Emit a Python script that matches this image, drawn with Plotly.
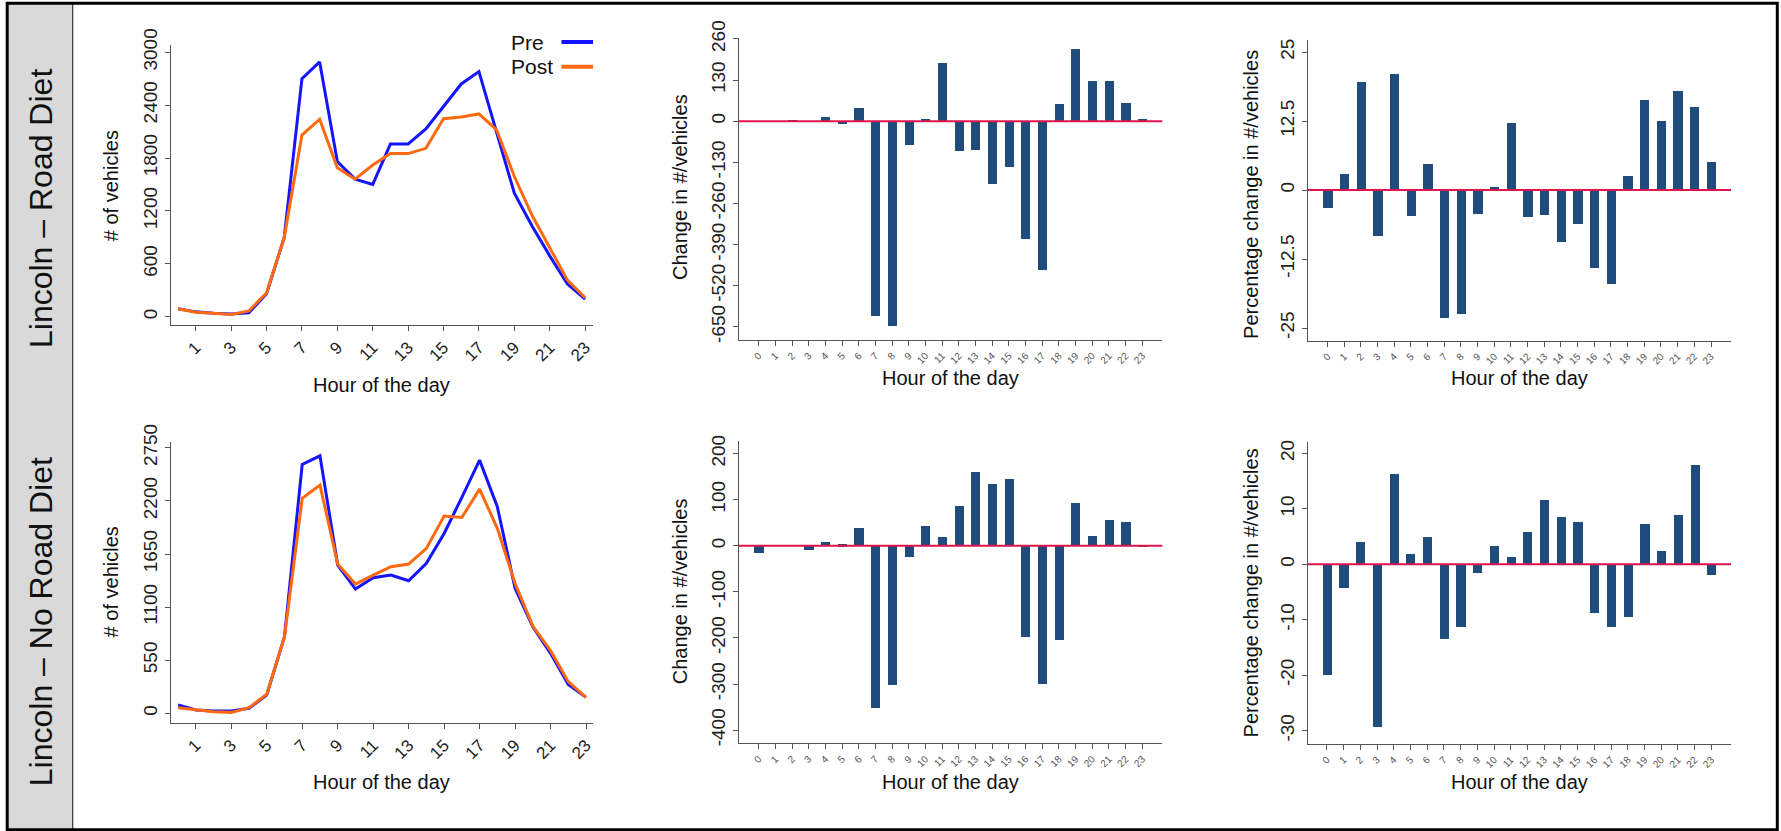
import plotly.graph_objects as go

# ---------------- data ----------------
hours = list(range(24))

rd_pre = [90, 55, 40, 30, 45, 260, 900, 2700, 2890, 1760, 1560, 1500,
          1960, 1960, 2130, 2390, 2640, 2780, 2100, 1400, 1030, 690, 370, 200]
rd_post = [90, 50, 40, 25, 65, 270, 900, 2060, 2240, 1690, 1560, 1720,
           1850, 1850, 1910, 2245, 2265, 2300, 2120, 1590, 1150, 790, 415, 215]

nrd_pre = [86, 35, 24, 24, 52, 190, 794, 2577, 2667, 1535, 1287, 1404,
           1432, 1373, 1553, 1863, 2236, 2622, 2139, 1294, 897, 621, 300, 166]
nrd_post = [59, 35, 17, 10, 59, 197, 794, 2226, 2364, 1546, 1339, 1432,
            1518, 1546, 1708, 2043, 2029, 2322, 1915, 1346, 904, 649, 328, 166]

rd_change = [0, 0, 4, 0, 12, -10, 42, -615, -649, -76, 7, 183,
             -94, -92, -200, -145, -374, -472, 54, 227, 127, 127, 56, 8]
rd_pct = [-3.2, 2.9, 19.5, -8.4, 21.1, -4.7, 4.7, -23.1, -22.4, -4.3, 0.5, 12.2,
          -4.8, -4.5, -9.5, -6.1, -14.2, -17.0, 2.6, 16.3, 12.5, 18.0, 15.1, 5.0]

nrd_change = [-15, 0, 0, -8, 9, 4, 40, -351, -302, -24, 43, 19,
              86, 160, 135, 145, -197, -300, -204, 94, 22, 56, 53, -2]
nrd_pct = [-19.9, -4.2, 4.1, -29.2, 16.4, 1.9, 4.9, -13.5, -11.2, -1.5, 3.4, 1.4,
           5.9, 11.7, 8.6, 7.6, -8.7, -11.2, -9.4, 7.3, 2.5, 8.9, 18.0, -1.8]

row_labels = ["Lincoln \u2013 Road Diet", "Lincoln \u2013 No Road Diet"]
series_names = ["Pre", "Post"]

left_xticks = list(range(1, 24, 2))
rd_count_ticks = [0, 600, 1200, 1800, 2400, 3000]
nrd_count_ticks = [0, 550, 1100, 1650, 2200, 2750]
rd_change_ticks = [-650, -520, -390, -260, -130, 0, 130, 260]
nrd_change_ticks = [-400, -300, -200, -100, 0, 100, 200]
rd_pct_ticks = [-25, -12.5, 0, 12.5, 25]
nrd_pct_ticks = [-30, -20, -10, 0, 10, 20]

# ---------------- style ----------------
W, H = 1781, 831
FONT = "Liberation Sans, Arial, Helvetica, sans-serif"
PRE_C = "#1414ff"
POST_C = "#ff6a10"
BAR_C = "#1f4b7d"
ZERO_C = "#e0144c"
AX_C = "#555555"


def px_x(v):
    return v / W


def px_y(v):
    return 1 - v / H


def fmt(v):
    return ("%g" % v)


fig = go.Figure()

# line panels
fig.add_trace(go.Scatter(x=hours, y=rd_pre, mode="lines", name=series_names[0],
                         line=dict(color=PRE_C, width=3), xaxis="x", yaxis="y"))
fig.add_trace(go.Scatter(x=hours, y=rd_post, mode="lines", name=series_names[1],
                         line=dict(color=POST_C, width=3), xaxis="x", yaxis="y"))
fig.add_trace(go.Scatter(x=hours, y=nrd_pre, mode="lines", name=series_names[0],
                         line=dict(color=PRE_C, width=3), xaxis="x4", yaxis="y4"))
fig.add_trace(go.Scatter(x=hours, y=nrd_post, mode="lines", name=series_names[1],
                         line=dict(color=POST_C, width=3), xaxis="x4", yaxis="y4"))

# bar panels
for xs, ys, vals in [("x2", "y2", rd_change), ("x3", "y3", rd_pct),
                     ("x5", "y5", nrd_change), ("x6", "y6", nrd_pct)]:
    fig.add_trace(go.Bar(x=hours, y=vals, width=0.55, marker=dict(color=BAR_C, line=dict(width=0)),
                         xaxis=xs, yaxis=ys))

common = dict(showline=True, linecolor=AX_C, linewidth=1, ticks="outside", ticklen=5,
              tickcolor=AX_C, showgrid=False, zeroline=False, mirror=False, automargin=False)

dom_x = [[px_x(170.8), px_x(593.1)], [px_x(738.7), px_x(1162.3)], [px_x(1307.6), px_x(1731.0)]]
dom_y_top = [[px_y(325), px_y(45)], [px_y(340), px_y(38)], [px_y(340.7), px_y(40)]]
dom_y_bot = [[px_y(722.7), px_y(441.7)], [px_y(743.3), px_y(440.7)], [px_y(744), px_y(441.7)]]

left_x = dict(common, range=[-0.41, 23.45], tickvals=left_xticks,
              ticktext=[fmt(v) for v in left_xticks], tickangle=-45,
              tickfont=dict(size=17, color="#222", family=FONT))
bar_x = dict(common, range=[-1.2, 24.2], tickvals=hours, ticktext=[fmt(v) for v in hours],
             tickangle=-45, tickfont=dict(size=10, color="#555", family=FONT))


def yax(rng, ticks, dom, anchor):
    return dict(common, range=rng, tickvals=ticks, ticktext=[fmt(v) for v in ticks],
                tickangle=-90, domain=dom, anchor=anchor,
                tickfont=dict(size=19, color="#222", family=FONT))


fig.update_layout(
    width=W, height=H, autosize=False,
    margin=dict(l=0, r=0, t=0, b=0, pad=0, autoexpand=False),
    paper_bgcolor="white", plot_bgcolor="white",
    showlegend=False, bargap=0,
    font=dict(family=FONT, color="#111"),
    xaxis=dict(left_x, domain=dom_x[0], anchor="y"),
    yaxis=yax([-94, 3082], rd_count_ticks, dom_y_top[0], "x"),
    xaxis2=dict(bar_x, domain=dom_x[1], anchor="y2"),
    yaxis2=yax([-692, 263], rd_change_ticks, dom_y_top[1], "x2"),
    xaxis3=dict(bar_x, domain=dom_x[2], anchor="y3"),
    yaxis3=yax([-27.3, 27.2], rd_pct_ticks, dom_y_top[2], "x3"),
    xaxis4=dict(left_x, domain=dom_x[0], anchor="y4", range=[-0.41, 23.4]),
    yaxis4=yax([-97, 2813], nrd_count_ticks, dom_y_bot[0], "x4"),
    xaxis5=dict(bar_x, domain=dom_x[1], anchor="y5"),
    yaxis5=yax([-428.6, 227.8], nrd_change_ticks, dom_y_bot[1], "x5"),
    xaxis6=dict(bar_x, domain=dom_x[2], anchor="y6", range=[-1.15, 24.17]),
    yaxis6=yax([-32.4, 22.1], nrd_pct_ticks, dom_y_bot[2], "x6"),
)

shapes = []
# grey label column and frame
shapes.append(dict(type="rect", xref="paper", yref="paper", x0=px_x(7.2), x1=px_x(72.7),
                   y0=px_y(829.7), y1=px_y(3.3), fillcolor="#d9d9d9",
                   line=dict(width=0), layer="below"))
shapes.append(dict(type="line", xref="paper", yref="paper", x0=px_x(72.7), x1=px_x(72.7),
                   y0=px_y(829.7), y1=px_y(3.3), line=dict(color="#333", width=1.2)))
shapes.append(dict(type="rect", xref="paper", yref="paper", x0=px_x(7.2), x1=px_x(1777.3),
                   y0=px_y(829.7), y1=px_y(3.3), line=dict(color="#000", width=3)))
# zero reference lines
for xs, ys in [("x2", "y2"), ("x3", "y3"), ("x5", "y5"), ("x6", "y6")]:
    shapes.append(dict(type="line", xref=xs + " domain", yref=ys, x0=0, x1=1, y0=0, y1=0,
                       line=dict(color=ZERO_C, width=2)))
# legend samples (top-left panel)
for yy, col in [(1.0107, PRE_C), (0.9225, POST_C)]:
    shapes.append(dict(type="line", xref="x domain", yref="y domain", x0=0.925, x1=0.9998,
                       y0=yy, y1=yy, line=dict(color=col, width=4)))
fig.update_layout(shapes=shapes)

ann = []
# legend texts
for yy, txt in [(1.0107, series_names[0]), (0.9225, series_names[1])]:
    ann.append(dict(xref="x domain", yref="y domain", x=0.80, y=yy, text=txt, showarrow=False,
                    xanchor="left", yanchor="middle", font=dict(size=21, color="#111", family=FONT)))
# row labels
ann.append(dict(xref="paper", yref="paper", x=px_x(40.5), y=px_y(208.5), text=row_labels[0],
                showarrow=False, textangle=-90, xanchor="center", yanchor="middle",
                font=dict(size=32, color="#111", family=FONT)))
ann.append(dict(xref="paper", yref="paper", x=px_x(40.5), y=px_y(621.7), text=row_labels[1],
                showarrow=False, textangle=-90, xanchor="center", yanchor="middle",
                font=dict(size=32, color="#111", family=FONT)))

# axis titles
titles = [
    (110.7, 185.5, "# of vehicles", -90), (110.7, 581.7, "# of vehicles", -90),
    (381.6, 385.0, "Hour of the day", 0), (381.6, 781.7, "Hour of the day", 0),
    (679.5, 187.5, "Change in #/vehicles", -90), (679.5, 591.7, "Change in #/vehicles", -90),
    (950.5, 378.3, "Hour of the day", 0), (950.5, 781.7, "Hour of the day", 0),
    (1250.9, 194.0, "Percentage change in #/vehicles", -90),
    (1250.9, 592.5, "Percentage change in #/vehicles", -90),
    (1519.0, 378.3, "Hour of the day", 0), (1519.0, 781.7, "Hour of the day", 0),
]
for x, y, t, ang in titles:
    ann.append(dict(xref="paper", yref="paper", x=px_x(x), y=px_y(y), text=t, showarrow=False,
                    textangle=ang, xanchor="center", yanchor="middle",
                    font=dict(size=20, color="#111", family=FONT)))
fig.update_layout(annotations=ann)

fig.write_html("out.html", config={"displayModeBar": False},
               post_script="document.body.style.margin='0';")
